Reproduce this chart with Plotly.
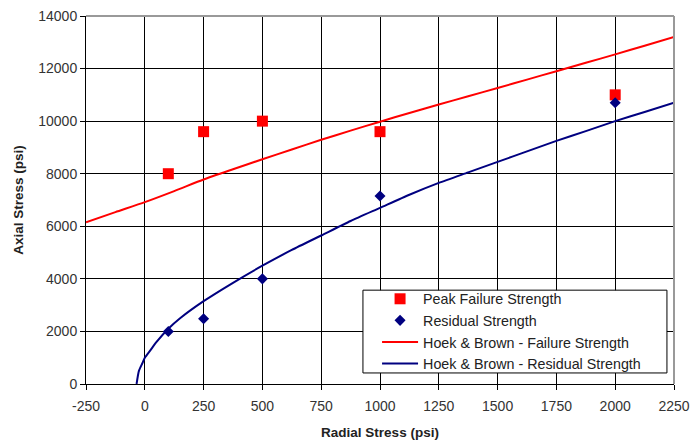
import plotly.graph_objects as go

peak_x = [100, 250, 500, 1000, 2000]
peak_y = [8000, 9600, 10000, 9600, 11000]
resid_x = [100, 250, 500, 1000, 2000]
resid_y = [2000, 2480, 4000, 7150, 10700]

hb_fail_x = [-250, -125, 0, 125, 250, 375, 500, 625, 750, 875, 1000, 1125, 1250,
             1375, 1500, 1625, 1750, 1875, 2000, 2125, 2250]
hb_fail_y = [6150, 6540, 6920, 7340, 7780, 8170, 8550, 8920, 9290, 9640, 9980, 10310,
             10630, 10950, 11260, 11580, 11900, 12220, 12540, 12870, 13200]

hb_res_x = [-35, -25, -10, 0, 25, 50, 100, 150, 250, 375, 500, 625, 750, 875, 1000,
            1125, 1250, 1375, 1500, 1625, 1750, 1875, 2000, 2125, 2250]
hb_res_y = [0, 500, 800, 1000, 1300, 1600, 2100, 2500, 3150, 3850, 4500, 5100, 5650,
            6200, 6700, 7200, 7650, 8050, 8450, 8850, 9250, 9620, 10000, 10350, 10700]

x_ticks = [-250, 0, 250, 500, 750, 1000, 1250, 1500, 1750, 2000, 2250]
y_ticks = [0, 2000, 4000, 6000, 8000, 10000, 12000, 14000]

fig = go.Figure()
fig.add_trace(go.Scatter(x=peak_x, y=peak_y, mode="markers", name="Peak Failure Strength",
                         marker=dict(symbol="square", size=11, color="#FF0000")))
fig.add_trace(go.Scatter(x=resid_x, y=resid_y, mode="markers", name="Residual Strength",
                         marker=dict(symbol="diamond", size=8.5, color="#000080")))
fig.add_trace(go.Scatter(x=hb_fail_x, y=hb_fail_y, mode="lines", name="Hoek & Brown - Failure Strength",
                         line=dict(color="#FF0000", width=2, shape="spline", smoothing=0.6)))
fig.add_trace(go.Scatter(x=hb_res_x, y=hb_res_y, mode="lines", name="Hoek & Brown - Residual Strength",
                         line=dict(color="#000080", width=2, shape="spline", smoothing=0.6)))

font = "Liberation Sans, Arial, sans-serif"
txt = "#333333"
fig.update_layout(
    width=690, height=443,
    margin=dict(l=86, r=16, t=16, b=59),
    paper_bgcolor="white", plot_bgcolor="white",
    font=dict(family=font, size=14, color=txt),
    showlegend=True,
    legend=dict(x=0.495, y=0.2745, xanchor="left", yanchor="top",
                bgcolor="rgba(0,0,0,0)", borderwidth=0,
                font=dict(family=font, size=14.3, color="#222222"),
                tracegroupgap=0, itemwidth=36),
    xaxis=dict(range=[-250, 2250], tickvals=x_ticks, ticktext=[str(v) for v in x_ticks],
               automargin=False, ticklabeloverflow="allow",
               showgrid=True, gridcolor="black", gridwidth=1,
               showline=True, linecolor="black", linewidth=1,
               ticks="outside", ticklen=5, tickcolor="black", zeroline=False,
               ticklabelstandoff=4,
               tickfont=dict(size=14, color=txt),
               title=dict(text="<b>Radial Stress (psi)</b>", font=dict(size=13.5, color="#222222"), standoff=14)),
    yaxis=dict(range=[0, 14000], tickvals=y_ticks, ticktext=[str(v) for v in y_ticks],
               automargin=False, ticklabeloverflow="allow",
               showgrid=True, gridcolor="black", gridwidth=1,
               showline=True, linecolor="black", linewidth=1,
               ticks="outside", ticklen=5, tickcolor="black", zeroline=False,
               tickfont=dict(size=14, color=txt),
               title=dict(text="<b>Axial Stress (psi)</b>", font=dict(size=13.5, color="#222222"), standoff=11)),
)
fig.add_shape(type="line", xref="paper", yref="paper", x0=0, x1=1, y0=1, y1=1,
              line=dict(color="#999999", width=2), layer="above")
fig.add_shape(type="line", xref="paper", yref="paper", x0=1, x1=1, y0=0, y1=1,
              line=dict(color="#999999", width=2), layer="above")
fig.add_shape(type="rect", xref="paper", yref="paper", x0=0.471, x1=0.988, y0=0.030, y1=0.255,
              line=dict(color="black", width=1), fillcolor="white", layer="above")

fig.write_html("out.html", config={"displayModeBar": False},
               post_script="document.body.style.margin='0';document.body.style.overflow='hidden';")
